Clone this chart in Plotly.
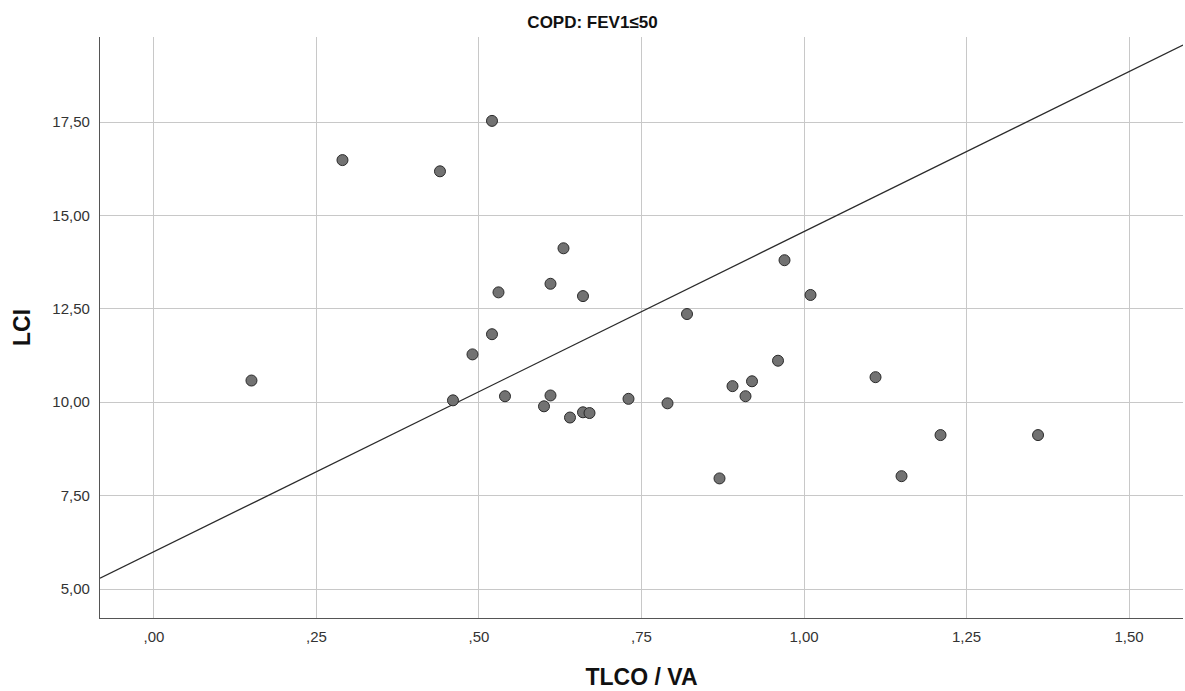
import plotly.graph_objects as go

tlco_va = [0.15, 0.29, 0.44, 0.52, 0.63, 0.53, 0.61, 0.66, 0.52, 0.49, 0.46, 0.54,
           0.61, 0.60, 0.64, 0.66, 0.67, 0.73, 0.79, 0.82, 0.87, 0.89, 0.91, 0.92,
           0.96, 0.97, 1.01, 1.11, 1.15, 1.21, 1.36]
lci = [10.58, 16.48, 16.18, 17.53, 14.12, 12.94, 13.17, 12.84, 11.82, 11.28, 10.05, 10.16,
       10.18, 9.89, 9.59, 9.73, 9.71, 10.09, 9.97, 12.36, 7.96, 10.43, 10.16, 10.56,
       11.11, 13.80, 12.87, 10.67, 8.02, 9.12, 9.12]

fit_intercept = 6.0
fit_slope = 8.565

x_tickvals = [0, 0.25, 0.5, 0.75, 1.0, 1.25, 1.5]
x_ticktext = [",00", ",25", ",50", ",75", "1,00", "1,25", "1,50"]
y_tickvals = [5, 7.5, 10, 12.5, 15, 17.5]
y_ticktext = ["5,00", "7,50", "10,00", "12,50", "15,00", "17,50"]

x_range = [-0.083, 1.583]
y_range = [4.224, 19.775]

fig = go.Figure()
fig.add_trace(go.Scatter(
    x=x_range,
    y=[fit_intercept + fit_slope * v for v in x_range],
    mode="lines", line=dict(color="#2b2b2b", width=1.3), hoverinfo="skip"))
fig.add_trace(go.Scatter(
    x=tlco_va, y=lci, mode="markers",
    marker=dict(size=11, color="#727272", line=dict(color="#2a2a2a", width=1))))

fig.update_layout(
    width=1185, height=691,
    margin=dict(l=100, r=2, t=37, b=73),
    paper_bgcolor="white", plot_bgcolor="white",
    showlegend=False,
    font=dict(family="Liberation Sans, Arial, sans-serif", color="#222"),
    title=dict(text="<b>COPD: FEV1≤50</b>", x=0.5, xanchor="center", y=0.968, yanchor="middle",
               font=dict(size=17, family="Liberation Sans Narrow, Liberation Sans, Arial", color="#111")),
)
fig.update_xaxes(range=x_range, tickvals=x_tickvals, ticktext=x_ticktext,
                 showgrid=True, gridcolor="#c8c8c8", gridwidth=1.3,
                 showline=True, linecolor="#555", linewidth=1.3, zeroline=False,
                 tickfont=dict(size=15, color="#333"), ticks="", ticklabelstandoff=5,
                 title=dict(text="<b>TLCO / VA</b>", font=dict(size=23, color="#111"), standoff=24))
fig.update_yaxes(range=y_range, tickvals=y_tickvals, ticktext=y_ticktext,
                 showgrid=True, gridcolor="#c8c8c8", gridwidth=1.3,
                 showline=True, linecolor="#555", linewidth=1.3, zeroline=False,
                 tickfont=dict(size=15, color="#333"), ticks="", ticklabelstandoff=6,
                 title=dict(text="<b>LCI</b>", font=dict(size=23, color="#111"), standoff=15))

fig.write_html("out.html")
